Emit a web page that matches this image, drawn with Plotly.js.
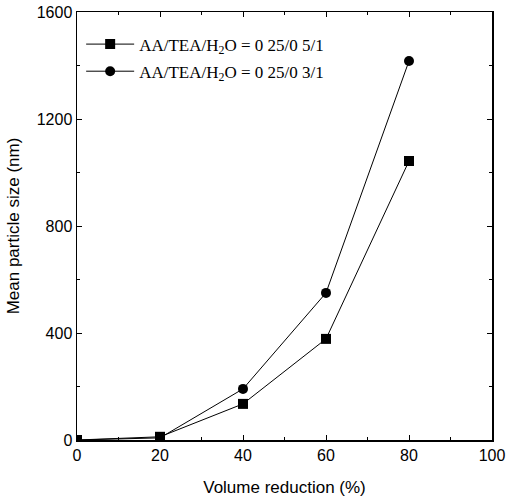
<!DOCTYPE html>
<html>
<head>
<meta charset="utf-8">
<script src="https://cdn.plot.ly/plotly-3.0.1.min.js"></script>
<style>html,body{margin:0;padding:0;background:#fff;}#chart{width:508px;height:500px;}</style>
</head>
<body>
<div id="chart"></div>
<script>
var volumeReduction = [0, 20, 40, 60, 80];
var sizeRatio05 = [0, 12, 135, 378, 1043];
var sizeRatio03 = [0, 8, 191, 550, 1417];
var seriesNames = ["AA/TEA/H<sub>2</sub>O = 0 25/0 5/1", "AA/TEA/H<sub>2</sub>O = 0 25/0 3/1"];

var traces = [
  {x: volumeReduction, y: sizeRatio05, name: seriesNames[0], mode: "lines+markers", legendgroup: "a",
   line: {color: "#000", width: 1}, marker: {symbol: "square", size: 10, color: "#000"}},
  {x: volumeReduction, y: sizeRatio03, name: seriesNames[1], mode: "lines+markers", legendgroup: "b",
   line: {color: "#000", width: 1}, marker: {symbol: "circle", size: 10, color: "#000"}}
];

var sans = "Liberation Sans, Arial, sans-serif";
var axisCommon = {
  showgrid: false, zeroline: false, showline: true, linecolor: "#000", linewidth: 1.5,
  mirror: "ticks", ticks: "inside", ticklen: 5, tickwidth: 1, tickcolor: "#000",
  tickfont: {family: sans, size: 16, color: "#000"}
};

var layout = {
  width: 508, height: 500,
  margin: {l: 77, r: 16, t: 12, b: 60},
  paper_bgcolor: "#fff", plot_bgcolor: "#fff",
  showlegend: true,
  legend: {x: 0.01, y: 0.966, xanchor: "left", yanchor: "top", bgcolor: "rgba(0,0,0,0)",
    font: {family: "Liberation Serif, Times New Roman, serif", size: 17, color: "#000"},
    tracegroupgap: 2, itemwidth: 48},
  xaxis: Object.assign({}, axisCommon, {
    range: [0, 100], dtick: 20, tick0: 0,
    minor: {dtick: 10, ticks: "inside", ticklen: 3, tickcolor: "#000"},
    title: {text: "Volume reduction (%)", standoff: 18,
      font: {family: sans, size: 17, color: "#000"}}
  }),
  yaxis: Object.assign({}, axisCommon, {
    range: [0, 1600], dtick: 400, tick0: 0,
    minor: {dtick: 200, ticks: "inside", ticklen: 3, tickcolor: "#000"},
    title: {text: "Mean particle size (nm)", standoff: 13,
      font: {family: sans, size: 17, color: "#000"}}
  })
};

Plotly.newPlot("chart", traces, layout, {displayModeBar: false, staticPlot: true});
</script>
</body>
</html>
